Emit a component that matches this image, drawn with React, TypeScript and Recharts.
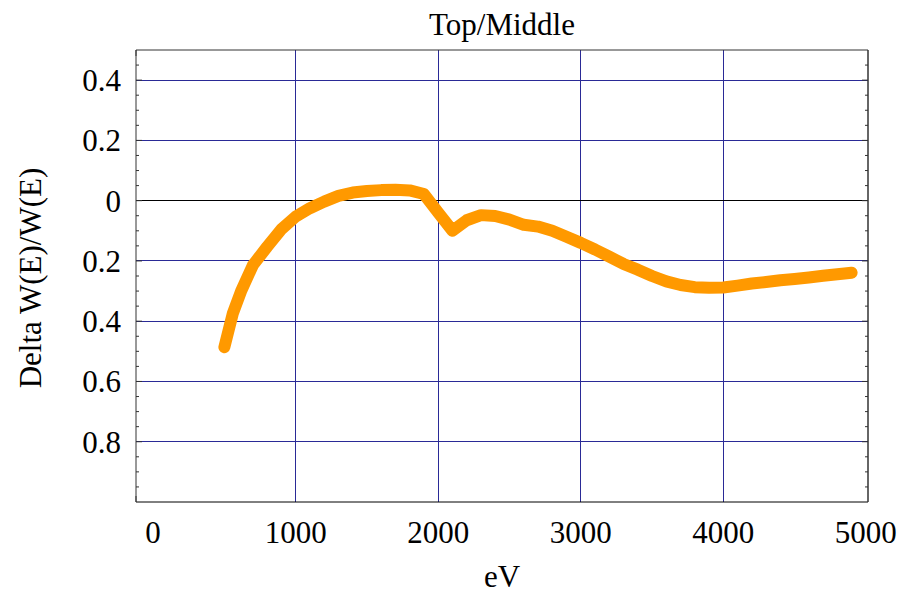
import { LineChart, Line, XAxis, YAxis, ReferenceLine, Label } from "recharts";

// relative width change vs. photon energy
const energy = [
  500, 560, 620, 700, 800, 900, 1000, 1100, 1200, 1300, 1400, 1500, 1600, 1700, 1800, 1900,
  2000, 2100, 2200, 2300, 2400, 2500, 2600, 2700, 2800, 2900, 3000, 3100, 3200, 3300, 3400,
  3500, 3600, 3700, 3800, 3900, 4000, 4100, 4200, 4300, 4400, 4500, 4600, 4700, 4800, 4900,
];
const deltaW = [
  -0.486, -0.373, -0.297, -0.214, -0.153, -0.095, -0.053, -0.025, -0.003, 0.016, 0.027, 0.032,
  0.035, 0.036, 0.034, 0.022, -0.04, -0.1, -0.065, -0.048, -0.051, -0.063, -0.08, -0.086, -0.1,
  -0.12, -0.14, -0.162, -0.186, -0.21, -0.229, -0.25, -0.268, -0.28, -0.287, -0.289, -0.288,
  -0.282, -0.275, -0.27, -0.264, -0.26, -0.255, -0.249, -0.244, -0.239,
];

const xTicks = [0, 1000, 2000, 3000, 4000, 5000];
const yTicks = [0.4, 0.2, 0, -0.2, -0.4, -0.6, -0.8];
const xGrid = [1000, 2000, 3000, 4000];
const yGrid = [0.4, 0.2, -0.2, -0.4, -0.6, -0.8];

const range = (from: number, to: number, step: number) => {
  const out: number[] = [];
  for (let v = from; v <= to + 1e-9; v += step) out.push(Math.round(v * 1000) / 1000);
  return out;
};
// frame ticks: every 200 eV and every 0.05
const xFrameTicks = range(0, 5000, 200);
const yFrameTicks = range(-0.95, 0.45, 0.05);

const X_DOMAIN: [number, number] = [-120, 5015];
const Y_DOMAIN: [number, number] = [-1, 0.5];

const SERIF = "'Liberation Serif', 'Times New Roman', serif";
const FRAME = "#333";
const GRID = "#2a2a96";
const ORANGE = "#ff9900";
const FS = 31;

const rows = energy.map((ev, i) => ({ ev, dw: deltaW[i] }));

const isMajorX = (v: number) => Math.abs(v % 1000) < 1e-6;
const isMajorY = (v: number) => Math.abs(Math.round(v * 100) % 20) === 0;

// inward tick mark drawn at the frame edge; long on labelled values
const FrameTick = (side: "bottom" | "top" | "left" | "right") => (props: any) => {
  const { x, y, payload } = props;
  const v = payload.value as number;
  const major = side === "bottom" || side === "top" ? isMajorX(v) : isMajorY(v);
  const len = major ? 6 : 3;
  let x2 = x;
  let y2 = y;
  if (side === "bottom") y2 = y - len;
  if (side === "top") y2 = y + len;
  if (side === "left") x2 = x + len;
  if (side === "right") x2 = x - len;
  return <line x1={x} y1={y} x2={x2} y2={y2} stroke={FRAME} strokeWidth={1} />;
};

export default function App() {
  return (
    <div style={{ position: "absolute", left: 0, top: 0, background: "#fff" }}>
      <LineChart width={904} height={596} data={rows} margin={{ top: 50, right: 36, bottom: 0, left: 0 }}>
        {/* labelled axes */}
        <XAxis
          xAxisId="x"
          type="number"
          dataKey="ev"
          domain={X_DOMAIN}
          allowDataOverflow
          ticks={xTicks}
          interval={0}
          height={94}
          tickLine={false}
          tickSize={0}
          tickMargin={19}
          axisLine={{ stroke: "#000", strokeWidth: 1 }}
          tick={{ fill: "#000", fontSize: FS, fontFamily: SERIF }}
        >
          <Label value="eV" position="insideBottom" offset={9} fill="#000" fontSize={FS} fontFamily={SERIF} />
        </XAxis>
        <YAxis
          yAxisId="y"
          type="number"
          domain={Y_DOMAIN}
          allowDataOverflow
          ticks={yTicks}
          interval={0}
          width={136}
          tickLine={false}
          tickSize={0}
          tickMargin={15}
          axisLine={{ stroke: FRAME, strokeWidth: 1 }}
          tickFormatter={(v: number) => String(Math.abs(v))}
          tick={{ fill: "#000", fontSize: FS, fontFamily: SERIF }}
        >
          <Label
            content={({ viewBox }: any) => {
              const cx = viewBox.x + 41;
              const cy = viewBox.y + viewBox.height / 2 + 2;
              return (
                <text
                  x={cx}
                  y={cy}
                  transform={`rotate(-90 ${cx} ${cy})`}
                  textAnchor="middle"
                  fill="#000"
                  fontSize={FS}
                  fontFamily={SERIF}
                >
                  Delta W(E)/W(E)
                </text>
              );
            }}
          />
        </YAxis>

        {/* inward frame ticks on all four sides */}
        <XAxis xAxisId="bFrame" type="number" domain={X_DOMAIN} allowDataOverflow ticks={xFrameTicks} interval={0} mirror height={1} tickSize={0} tickMargin={0} tickLine={false} axisLine={false} tick={FrameTick("bottom")} />
        <XAxis xAxisId="tFrame" orientation="top" type="number" domain={X_DOMAIN} allowDataOverflow ticks={xFrameTicks} interval={0} mirror height={1} tickSize={0} tickMargin={0} tickLine={false} axisLine={{ stroke: FRAME, strokeWidth: 1 }} tick={FrameTick("top")}>
          <Label value="Top/Middle" position="top" offset={15} fill="#000" fontSize={FS} fontFamily={SERIF} />
        </XAxis>
        <YAxis yAxisId="lFrame" type="number" domain={Y_DOMAIN} allowDataOverflow ticks={yFrameTicks} interval={0} mirror width={1} tickSize={0} tickMargin={0} tickLine={false} axisLine={false} tick={FrameTick("left")} />
        <YAxis yAxisId="rFrame" orientation="right" type="number" domain={Y_DOMAIN} allowDataOverflow ticks={yFrameTicks} interval={0} mirror width={1} tickSize={0} tickMargin={0} tickLine={false} axisLine={{ stroke: FRAME, strokeWidth: 1.5 }} tick={FrameTick("right")} />

        {xGrid.map((v) => (
          <ReferenceLine key={`gx${v}`} xAxisId="x" yAxisId="y" x={v} stroke={GRID} strokeWidth={1} shapeRendering="crispEdges" />
        ))}
        {yGrid.map((v) => (
          <ReferenceLine key={`gy${v}`} xAxisId="x" yAxisId="y" y={v} stroke={GRID} strokeWidth={1} shapeRendering="crispEdges" />
        ))}
        <ReferenceLine xAxisId="x" yAxisId="y" y={0} stroke="#000" strokeWidth={1} shapeRendering="crispEdges" />

        <Line
          xAxisId="x"
          yAxisId="y"
          dataKey="dw"
          type="linear"
          stroke={ORANGE}
          strokeWidth={12}
          strokeLinecap="round"
          strokeLinejoin="round"
          dot={false}
          activeDot={false}
          isAnimationActive={false}
        />
      </LineChart>
    </div>
  );
}
